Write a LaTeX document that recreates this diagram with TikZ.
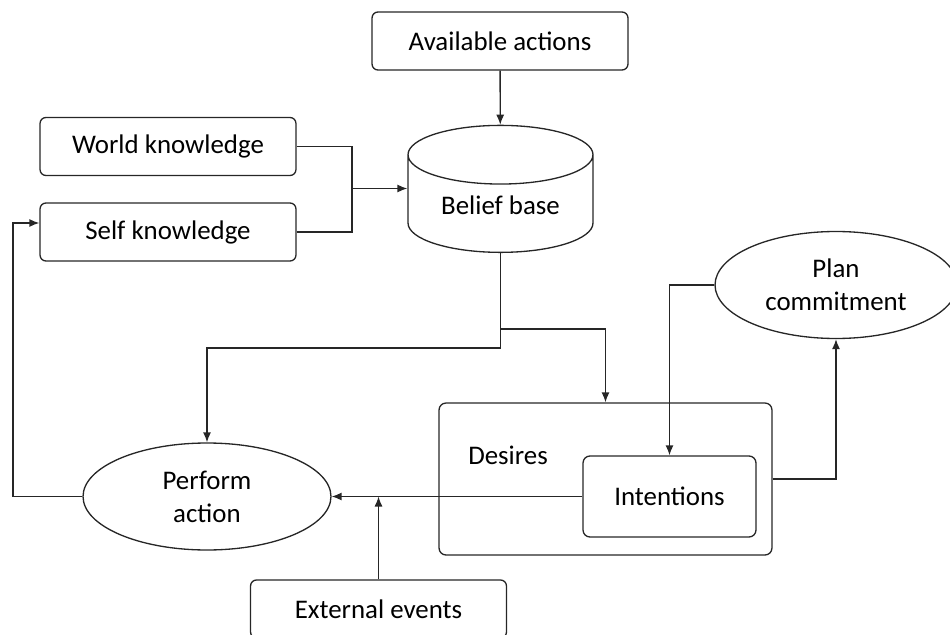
\documentclass[tikz,border=0pt]{standalone}
\usepackage{fontspec}
\setmainfont{Carlito}
\usetikzlibrary{shapes.geometric,arrows.meta,calc}

\begin{document}
\begin{tikzpicture}[x=0.02cm, y=-0.02cm, line width=0.75pt, draw=black!85,
    box/.style={rectangle, draw, rounded corners=0.12cm, minimum width=5.12cm, minimum height=1.16cm, align=center},
    oval/.style={ellipse, draw, minimum width=4.96cm, minimum height=2.14cm, align=center, inner sep=0pt},
    arr/.style={-{Latex[length=0.2cm,width=0.16cm]}},
    every node/.style={font=\fontsize{15.3}{18.7}\selectfont}]

    \useasboundingbox (0,0) rectangle (950,635);
    \clip (0,0) rectangle (950,635);

    % Inputs
    \node[box] (avail) at (500,41) {Available actions};
    \node[box] (world) at (168,146.5) {World knowledge};
    \node[box] (self) at (168,232) {Self knowledge};

    % Belief base
    \node[cylinder, draw, shape border rotate=90, aspect=0.45, minimum width=3.7cm, minimum height=2.54cm] (belief) at (500.5,209) {\raisebox{0.16cm}{Belief base}};

    % Plans and goals
    \node[oval, minimum width=4.84cm] (plan) at (836,285) {Plan\\commitment};
    \node[box, rounded corners=0.14cm, minimum width=6.66cm, minimum height=3.04cm] (desires) at (605.5,479) {};
    \node (desireslbl) at (508,455) {Desires};
    \node[box, rounded corners=0.14cm, minimum width=3.46cm, minimum height=1.62cm] (intent) at (669.5,496.5) {Intentions};

    % Action
    \node[oval] (perform) at (207,496.5) {Perform\\action};
    \node[box] (external) at (378.5,609) {External events};

    % Junctions
    \coordinate (kjoin) at (352,188.5);
    \coordinate (bsplit) at (500.5,329);
    \coordinate (bleft) at (500.5,348);
    \coordinate (loop) at (13,223);

    % Arrows
    \draw[arr] (avail) -- (belief);
    \draw (world.east) -| (kjoin);
    \draw (self.east) -| (kjoin);
    \draw[arr] (kjoin) -- (kjoin -| belief.west);
    \draw (belief) -- (bleft);
    \draw[arr] (bsplit) -| (desires.north);
    \draw[arr] (bleft) -| (perform.north);
    \draw[arr] (plan.west) -| (intent.north);
    \draw[arr] (desires.east) -| (plan.south);
    \draw[arr] (intent.west) -- (perform.east);
    \draw[arr] (external.north) -- (external.north |- perform.east);
    \draw[arr] (perform.west) -| (loop) -- (loop -| self.west);
\end{tikzpicture}
\end{document}
